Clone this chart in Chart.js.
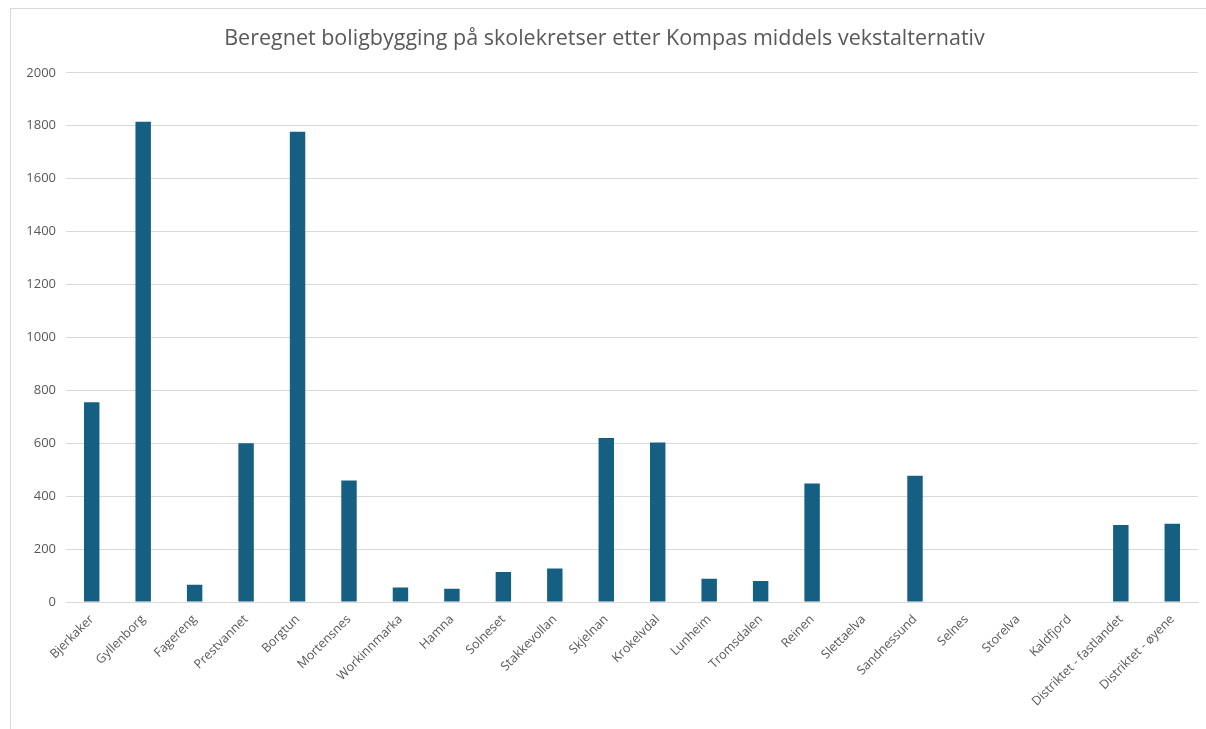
<!DOCTYPE html>
<html>
<head>
<meta charset="utf-8">
<script src="https://cdn.jsdelivr.net/npm/chart.js@4.4.1/dist/chart.umd.min.js"></script>
<style>
    body { margin: 0; background: #fff; }
    #wrap {
        position: absolute; left: 10px; top: 8px;
        width: 1196px; height: 721px;
        border-left: 1px solid #d9d9d9; border-top: 1px solid #d9d9d9;
        box-sizing: border-box;
    }
</style>
</head>
<body>
<div id="wrap"><canvas id="boligChart"></canvas></div>
<script>
// Skolekretser
const kretser = [
    'Bjerkaker', 'Gyllenborg', 'Fagereng', 'Prestvannet', 'Borgtun', 'Mortensnes',
    'Workinnmarka', 'Hamna', 'Solneset', 'Stakkevollan', 'Skjelnan', 'Krokelvdal',
    'Lunheim', 'Tromsdalen', 'Reinen', 'Slettaelva', 'Sandnessund', 'Selnes',
    'Storelva', 'Kaldfjord', 'Distriktet - fastlandet', 'Distriktet - øyene'
];

// Beregnet boligbygging (middels vekstalternativ)
const boliger = [
    755, 1815, 65, 600, 1777, 459,
    55, 50, 113, 127, 620, 603,
    88, 79, 448, 0, 477, 0,
    0, 0, 291, 296
];

const yTicks = [0, 200, 400, 600, 800, 1000, 1200, 1400, 1600, 1800, 2000];

const labelColor = '#595959';
const gridColor = '#d9d9d9';

const ctx = document.getElementById('boligChart').getContext('2d');
new Chart(ctx, {
    type: 'bar',
    data: {
        labels: kretser,
        datasets: [{
            label: 'Boliger',
            data: boliger,
            backgroundColor: '#156082',
            borderWidth: 0,
            barPercentage: 0.6,
            categoryPercentage: 0.5
        }]
    },
    options: {
        responsive: true,
        maintainAspectRatio: false,
        animation: false,
        layout: { padding: { left: 0, right: 8, top: 0, bottom: 0 } },
        scales: {
            y: {
                min: 0,
                max: 2000,
                afterBuildTicks: (scale) => { scale.ticks = yTicks.map(v => ({ value: v })); },
                afterFit: (scale) => { scale.width = 55; },
                grid: { color: gridColor, lineWidth: 1, drawTicks: false },
                border: { display: false },
                ticks: {
                    color: labelColor,
                    padding: 10,
                    callback: (v) => String(v),
                    font: { family: 'Open Sans', size: 13 }
                }
            },
            x: {
                afterFit: (scale) => { scale.height = 127; },
                grid: { display: false },
                border: { color: gridColor, width: 1 },
                ticks: {
                    color: labelColor,
                    minRotation: 45,
                    maxRotation: 45,
                    autoSkip: false,
                    padding: 2,
                    font: { family: 'Open Sans', size: 12.5 }
                }
            }
        },
        plugins: {
            legend: { display: false },
            tooltip: { enabled: false },
            title: {
                display: true,
                text: 'Beregnet boligbygging på skolekretser etter Kompas middels vekstalternativ',
                color: labelColor,
                padding: { top: 17, bottom: 21 },
                font: { family: 'Open Sans', size: 21.5, weight: 'normal' }
            }
        }
    }
});
</script>
</body>
</html>
